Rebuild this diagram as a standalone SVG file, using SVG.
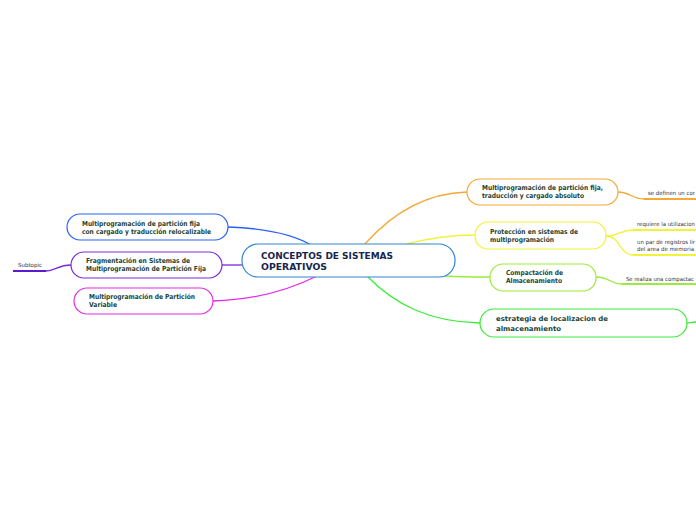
<svg xmlns="http://www.w3.org/2000/svg" width="696" height="520" viewBox="0 0 696 520">
<style>
.t{font-family:"DejaVu Sans","Liberation Sans",sans-serif;font-weight:bold;font-size:6.8px;fill:#1c4436}
.c{font-family:"DejaVu Sans","Liberation Sans",sans-serif;font-weight:bold;font-size:9px;fill:#17254d}
.s{font-family:"DejaVu Sans","Liberation Sans",sans-serif;font-size:5.6px;fill:#333}
.n{fill:#fff;stroke-width:1.2}
.e{fill:none;stroke-width:1.3}
.u{fill:none;stroke-width:2}
</style>
<rect width="696" height="520" fill="#fff"/>
<g id="connectors">
<path class="e" stroke="#2a62f0" d="M313,246 C290,232 260,228 228,227"/>
<path class="e" stroke="#7a2ad8" d="M242,265 L222,265"/>
<path class="e" stroke="#e52ae5" d="M317,276 C285,292 250,300 213,301"/>
<path class="e" stroke="#f5a833" d="M365,244 C395,210 430,193 467,192"/>
<path class="e" stroke="#f2f23a" d="M406,244 C430,238 450,235 475,235"/>
<path class="e" stroke="#9aec3a" d="M445,276 C460,277 475,277 490,277"/>
<path class="e" stroke="#3aec3a" d="M367,276 C395,305 430,322 480,323"/>
<path class="e" stroke="#7a2ad8" d="M71,265 C58,265 55,271 46,271"/>
<path class="u" stroke="#5a1ad0" d="M13,271 L46,271"/>
<path class="e" stroke="#f5a833" d="M618,192 C630,192 632,199 644,199"/>
<path class="u" stroke="#f5a833" d="M644,199 L696,199"/>
<path class="e" stroke="#f2f23a" d="M606,236 C620,236 620,230 633,230"/>
<path class="u" stroke="#f2f23a" d="M633,230 L696,230"/>
<path class="e" stroke="#f2f23a" d="M606,236 C620,236 620,255 633,255"/>
<path class="u" stroke="#f2f23a" d="M633,255 L696,255"/>
<path class="e" stroke="#9aec3a" d="M596,277 C610,277 610,284 622,284"/>
<path class="u" stroke="#9aec3a" d="M622,284 L696,284"/>
<path class="e" stroke="#3aec3a" d="M687,323 C690,323 692,322 696,322"/>
</g>
<g id="center">
<rect class="n" stroke="#2f86d6" x="242" y="244" width="213" height="33" rx="16"/>
<text class="c" x="261" y="259" textLength="132" lengthAdjust="spacingAndGlyphs">CONCEPTOS DE SISTEMAS</text>
<text class="c" x="261" y="270" textLength="66" lengthAdjust="spacingAndGlyphs">OPERATIVOS</text>
</g>
<g id="n-fija-reloc">
<rect class="n" stroke="#2a62f0" x="67" y="214" width="161" height="26" rx="13"/>
<text class="t" x="82" y="226" textLength="118" lengthAdjust="spacingAndGlyphs">Multiprogramación de partición fija</text>
<text class="t" x="82" y="234" textLength="129" lengthAdjust="spacingAndGlyphs">con cargado y traducción relocalizable</text>
</g>
<g id="n-fragmentacion">
<rect class="n" stroke="#7a2ad8" x="71" y="252" width="151" height="26" rx="13"/>
<text class="t" x="86" y="263" textLength="104" lengthAdjust="spacingAndGlyphs">Fragmentación en Sistemas de</text>
<text class="t" x="86" y="271" textLength="120" lengthAdjust="spacingAndGlyphs">Multiprogramación de Partición Fija</text>
</g>
<g id="n-variable">
<rect class="n" stroke="#e52ae5" x="74" y="288" width="139" height="26" rx="13"/>
<text class="t" x="89" y="299" textLength="106" lengthAdjust="spacingAndGlyphs">Multiprogramación de Partición</text>
<text class="t" x="89" y="307" textLength="28" lengthAdjust="spacingAndGlyphs">Variable</text>
</g>
<g id="n-subtopic">
<text class="s" x="18" y="267" textLength="24" lengthAdjust="spacingAndGlyphs">Subtopic</text>
</g>
<g id="n-absoluto">
<rect class="n" stroke="#f5a833" x="467" y="179" width="151" height="26" rx="13"/>
<text class="t" x="482" y="190" textLength="121" lengthAdjust="spacingAndGlyphs">Multiprogramación de partición fija,</text>
<text class="t" x="482" y="198" textLength="102" lengthAdjust="spacingAndGlyphs">traducción y cargado absoluto</text>
</g>
<g id="n-absoluto-c1">
<text class="s" x="648" y="195" textLength="47" lengthAdjust="spacingAndGlyphs">se definen un cor</text>
</g>
<g id="n-proteccion">
<rect class="n" stroke="#f2f23a" x="475" y="222" width="131" height="27" rx="13"/>
<text class="t" x="490" y="234" textLength="88" lengthAdjust="spacingAndGlyphs">Protección en sistemas de</text>
<text class="t" x="490" y="242" textLength="64" lengthAdjust="spacingAndGlyphs">multiprogramación</text>
</g>
<g id="n-proteccion-c1">
<text class="s" x="637" y="226" textLength="58" lengthAdjust="spacingAndGlyphs">requiere la utilizacion</text>
</g>
<g id="n-proteccion-c2">
<text class="s" x="637" y="244" textLength="58" lengthAdjust="spacingAndGlyphs">un par de registros lir</text>
<text class="s" x="637" y="251" textLength="57" lengthAdjust="spacingAndGlyphs">del area de memoria</text>
</g>
<g id="n-compactacion">
<rect class="n" stroke="#9aec3a" x="490" y="264" width="106" height="27" rx="13"/>
<text class="t" x="506" y="275" textLength="57" lengthAdjust="spacingAndGlyphs">Compactación de</text>
<text class="t" x="506" y="283" textLength="56" lengthAdjust="spacingAndGlyphs">Almacenamiento</text>
</g>
<g id="n-compactacion-c1">
<text class="s" x="626" y="281" textLength="68" lengthAdjust="spacingAndGlyphs">Se realiza una compactac</text>
</g>
<g id="n-estrategia">
<rect class="n" stroke="#3aec3a" x="480" y="309" width="207" height="28" rx="14"/>
<text class="t" x="496" y="321" textLength="112" lengthAdjust="spacingAndGlyphs">estrategia de localizacion de</text>
<text class="t" x="496" y="331" textLength="65" lengthAdjust="spacingAndGlyphs">almacenamiento</text>
</g>
</svg>
